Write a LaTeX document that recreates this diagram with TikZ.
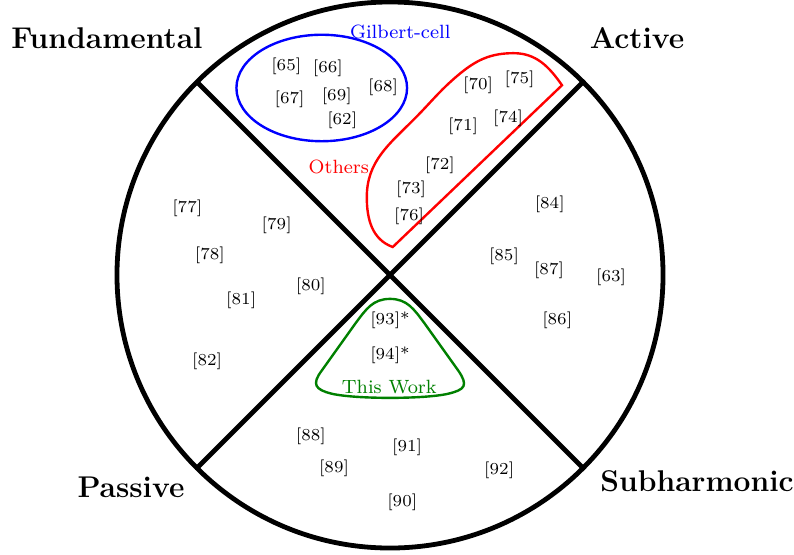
\documentclass[tikz,border=0pt]{standalone}
\usepackage{tikz}
\begin{document}
\begin{tikzpicture}[line width=0.5pt, ref/.style={font=\scriptsize}, sector/.style={font=\fontsize{12.5}{15}\selectfont\bfseries}, grp/.style={font=\footnotesize}]
  \useasboundingbox (-5.714,-4.088) rectangle (5.919,4.029);
  \draw[line width=2pt] (0,0) circle (4);
  \draw[line width=2pt] (135:4) -- (315:4); \draw[line width=2pt] (45:4) -- (225:4);
  \node[sector] (fund) at (-4.147,3.473) {Fundamental};
  \node[sector] (act) at (3.619,3.473) {Active};
  \node[sector] (pas) at (-3.795,-3.106) {Passive};
  \node[sector] (sub) at (4.498,-3.018) {Subharmonic};
  % Gilbert-cell group
  \draw[blue, line width=1pt] (-1.00,2.74) ellipse (1.25 and 0.78);
  \node[grp, blue] (gil) at (0.15,3.56) {Gilbert-cell};
  \foreach \x/\y/\l in {-1.52/3.06/65,-0.91/3.03/66,-1.47/2.58/67,-0.78/2.62/69,-0.10/2.75/68,-0.70/2.26/62}{ \node[ref] (r\l) at (\x,\y) {[\l]};}
  % others
  \draw[red, line width=1pt] (0.04,0.41) -- (2.52,2.78) to[out=125,in=0] (1.81,3.25) to[out=180,in=40] (1.0,2.93) to[out=220,in=45] (0.35,2.28) to[out=225,in=90] (-0.34,1.14) to[out=270,in=160] cycle;
  \node[grp, red] (oth) at (-0.75,1.58) {Others};
  \foreach \x/\y/\l in {1.29/2.78/70,1.90/2.87/75,1.07/2.18/71,1.73/2.29/74,0.73/1.61/72,0.31/1.25/73,0.28/0.86/76}{ \node[ref] (r\l) at (\x,\y) {[\l]};}
  % passive side
  \foreach \x/\y/\l in {-2.97/0.98/77,-1.66/0.73/79,-2.64/0.29/78,-1.16/-0.16/80,-2.18/-0.37/81,-2.68/-1.26/82}{ \node[ref] (r\l) at (\x,\y) {[\l]};}
  % active side
  \foreach \x/\y/\l in {2.34/1.03/84,1.67/0.28/85,2.33/0.07/87,3.24/-0.04/63,2.45/-0.67/86}{ \node[ref] (r\l) at (\x,\y) {[\l]};}
  % subharmonic side
  \foreach \x/\y/\l in {-1.16/-2.36/88,0.25/-2.52/91,-0.82/-2.83/89,1.60/-2.86/92,0.18/-3.33/90}{ \node[ref] (r\l) at (\x,\y) {[\l]};}
  % this work
  \draw[green!50!black, line width=1pt] (0,-0.35) .. controls (0.25,-0.35) and (0.35,-0.5) .. (0.5,-0.7) -- (1.0,-1.4) .. controls (1.15,-1.62) and (1.1,-1.68) .. (0.85,-1.74) .. controls (0.5,-1.82) and (-0.5,-1.82) .. (-0.85,-1.74) .. controls (-1.1,-1.68) and (-1.15,-1.6) .. (-1.0,-1.4) -- (-0.5,-0.7) .. controls (-0.35,-0.5) and (-0.25,-0.35) .. cycle;
  \node[ref] (r93) at (0,-0.67) {[93]*};
  \node[ref] (r94) at (0,-1.17) {[94]*};
  \node[grp, green!50!black] (tw) at (-0.01,-1.64) {This Work};
\end{tikzpicture}
\end{document}
